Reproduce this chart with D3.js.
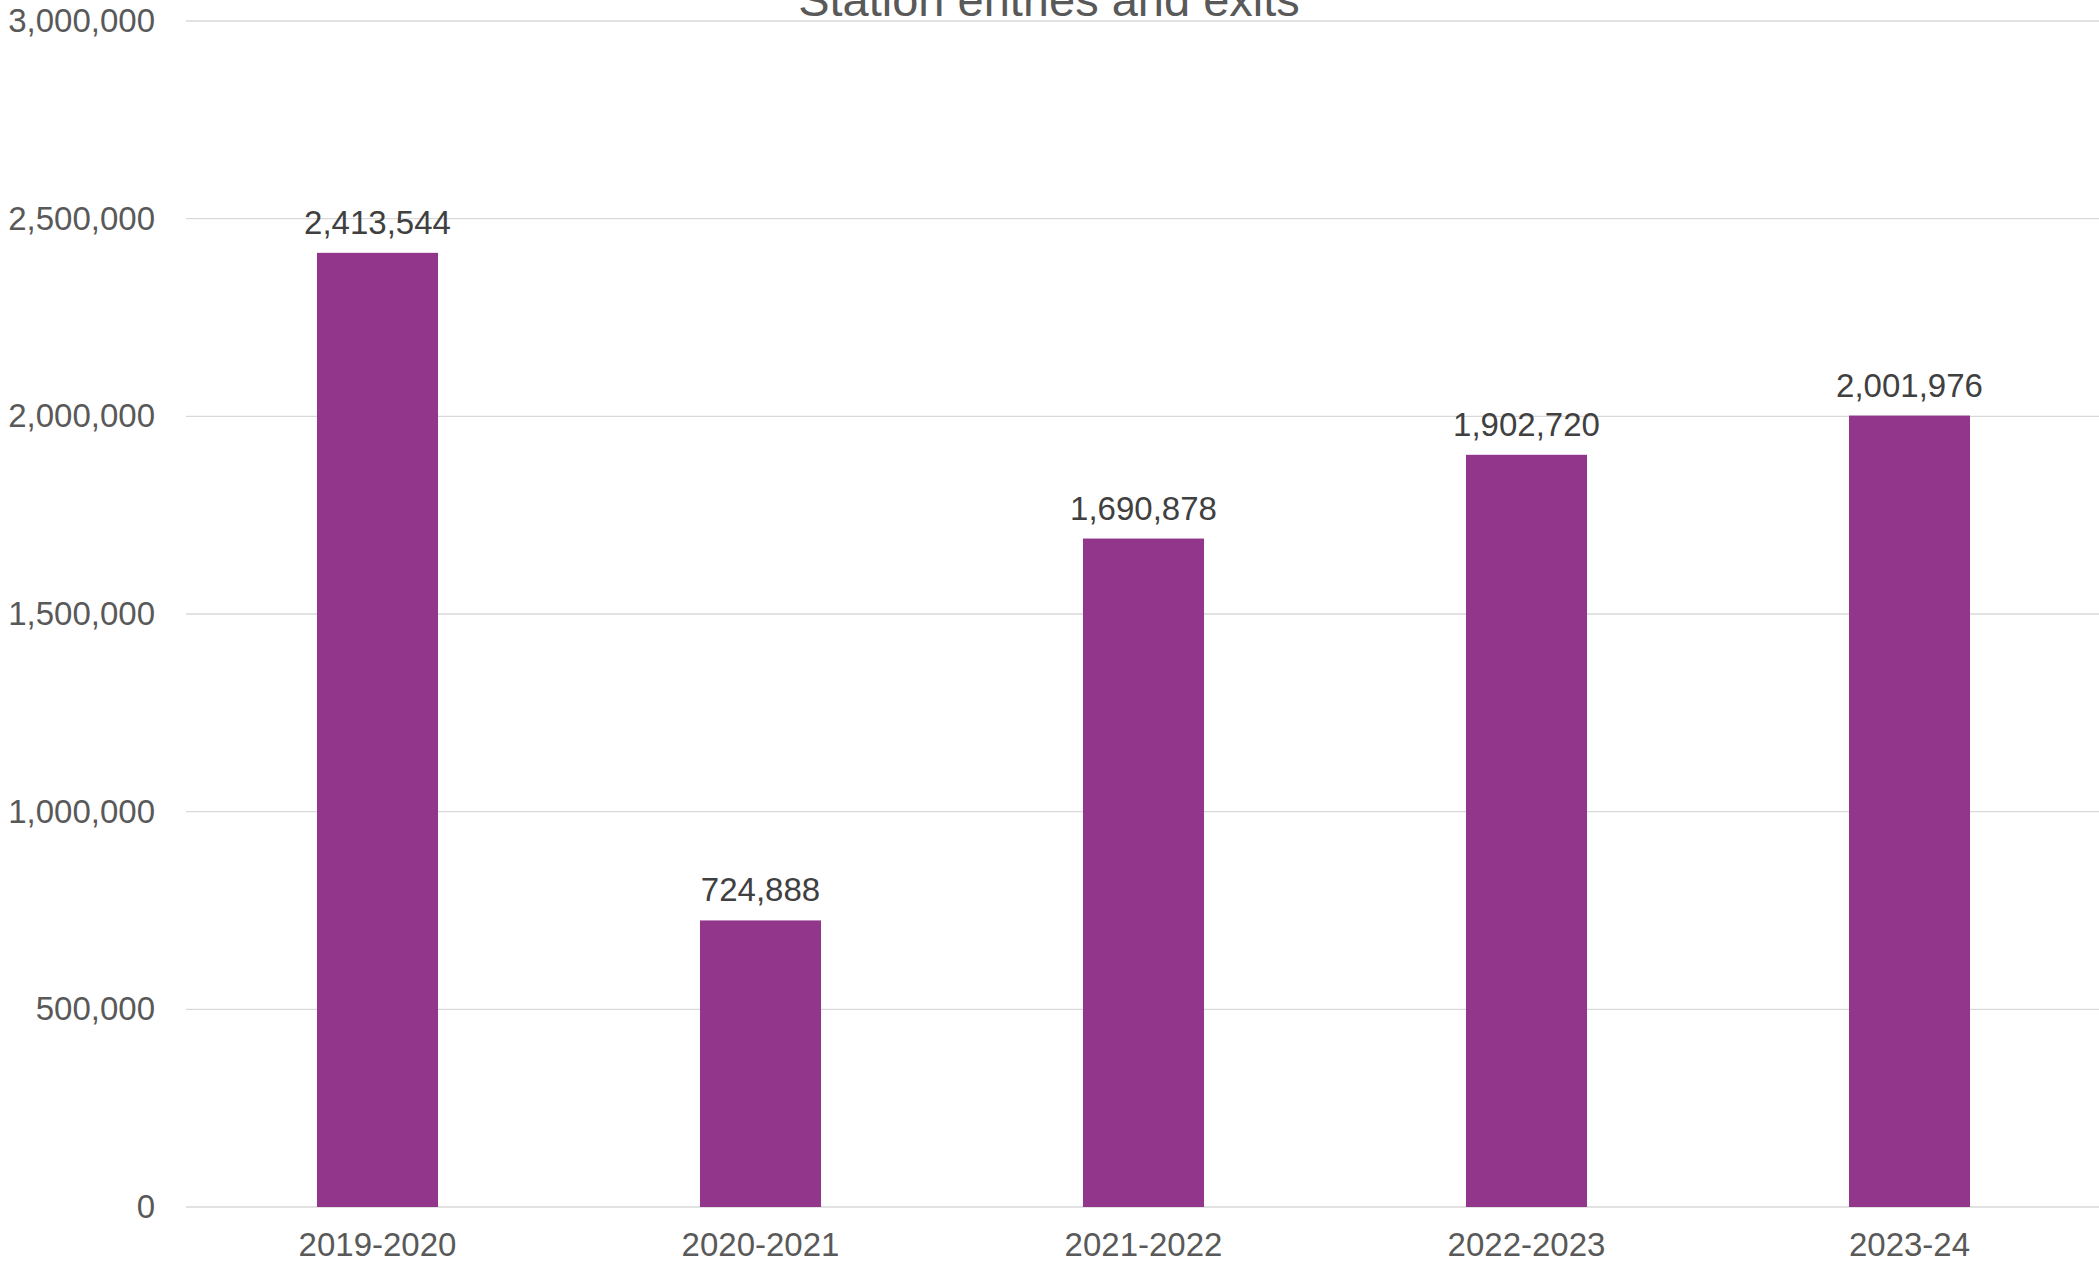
<!DOCTYPE html>
<html><head><meta charset="utf-8">
<script src="https://cdn.jsdelivr.net/npm/d3@7"></script>
<style>html,body{margin:0;padding:0;background:#fff;overflow:hidden}</style>
</head><body>
<svg id="chart" width="2099" height="1265"></svg>
<script>
const categories = ["2019-2020","2020-2021","2021-2022","2022-2023","2023-24"];
const values = [2413544, 724888, 1690878, 1902720, 2001976];
const yTicks = [0, 500000, 1000000, 1500000, 2000000, 2500000, 3000000];
const title = "Station entries and exits";

(function(){
const svg = d3.select("#chart");
const mLeft = 186, mRight = 2101, mTop = 21, mBottom = 1207;
const font = "Liberation Sans, Arial, sans-serif";
const fmt = d3.format(",");

const x = d3.scaleBand().domain(categories).range([mLeft, mRight]).paddingInner(0.684).paddingOuter(0.342);
const y = d3.scaleLinear().domain([0, 3000000]).range([mBottom, mTop]);

// gridlines
svg.append("g").selectAll("line").data(yTicks).join("line")
  .attr("x1", mLeft).attr("x2", 2099)
  .attr("y1", d => y(d)).attr("y2", d => y(d))
  .attr("stroke", "#d9d9d9").attr("stroke-width", 1.3);

// y axis labels
const yAxis = d3.axisLeft(y).tickValues(yTicks).tickFormat(fmt).tickSize(0).tickPadding(31);
const gy = svg.append("g").attr("transform", `translate(${mLeft},0)`).call(yAxis);
gy.select(".domain").remove();
gy.selectAll("text").attr("font-family", font).attr("font-size", 33).attr("fill", "#595959").attr("dy", "0.32em");

// x axis labels
const xAxis = d3.axisBottom(x).tickSize(0).tickPadding(26);
const gx = svg.append("g").attr("transform", `translate(0,${mBottom})`).call(xAxis);
gx.select(".domain").remove();
gx.selectAll("text").attr("font-family", font).attr("font-size", 33).attr("fill", "#595959");

// bars
svg.append("g").selectAll("rect").data(values).join("rect")
  .attr("x", (d,i) => x(categories[i]))
  .attr("width", x.bandwidth())
  .attr("y", d => y(d))
  .attr("height", d => y(0) - y(d))
  .attr("fill", "#92368b");

// data labels
svg.append("g").selectAll("text").data(values).join("text")
  .attr("x", (d,i) => x(categories[i]) + x.bandwidth()/2)
  .attr("y", d => y(d) - 19)
  .attr("text-anchor", "middle")
  .attr("font-family", font).attr("font-size", 33).attr("fill", "#404040")
  .text(d => fmt(d));

// title (partly cut off at top, as in the reference)
svg.append("text").attr("x", 1049).attr("y", 16)
  .attr("text-anchor", "middle")
  .attr("font-family", font).attr("font-size", 47).attr("fill", "#595959")
  .text(title);
})();
</script>
</body></html>
